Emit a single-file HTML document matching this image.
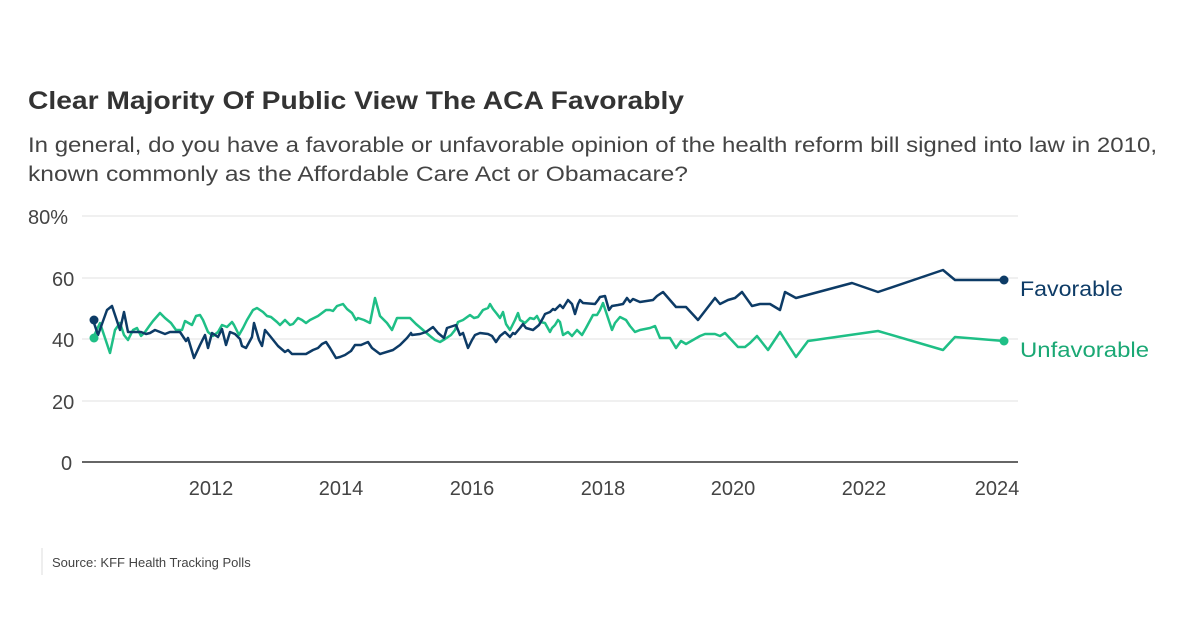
<!DOCTYPE html>
<html><head><meta charset="utf-8"><style>
html,body{margin:0;padding:0;background:#fff;}
svg{display:block;font-family:"Liberation Sans",sans-serif;}
</style></head><body>
<svg width="1200" height="629" viewBox="0 0 1200 629" xmlns="http://www.w3.org/2000/svg">
<rect width="1200" height="629" fill="#fff"/>
<text x="28" y="109" font-size="25" font-weight="bold" fill="#333" textLength="656" lengthAdjust="spacingAndGlyphs">Clear Majority Of Public View The ACA Favorably</text>
<text x="28" y="152" font-size="21" fill="#444" textLength="1129" lengthAdjust="spacingAndGlyphs">In general, do you have a favorable or unfavorable opinion of the health reform bill signed into law in 2010,</text>
<text x="28" y="181" font-size="21" fill="#444" textLength="660" lengthAdjust="spacingAndGlyphs">known commonly as the Affordable Care Act or Obamacare?</text>
<g stroke="#e0e0e0" stroke-width="1">
<line x1="82" y1="216" x2="1018" y2="216"/><line x1="82" y1="278" x2="1018" y2="278"/><line x1="82" y1="339" x2="1018" y2="339"/><line x1="82" y1="401" x2="1018" y2="401"/>
</g>
<line x1="82" y1="462" x2="1018" y2="462" stroke="#333" stroke-width="1.5"/>
<g font-size="20" fill="#444">
<text x="28" y="224">80%</text><text x="52" y="286">60</text><text x="52" y="347">40</text><text x="52" y="409">20</text><text x="61" y="470">0</text>
</g>
<g font-size="20" fill="#444" text-anchor="middle">
<text x="211" y="495">2012</text><text x="341" y="495">2014</text><text x="472" y="495">2016</text><text x="603" y="495">2018</text><text x="733" y="495">2020</text><text x="864" y="495">2022</text><text x="997" y="495">2024</text>
</g>
<polyline fill="none" stroke="#1fbf86" stroke-width="2.5" stroke-linejoin="round" points="93,338 100,323 104,335 110,353 115,330 120,323 124,335 128,340 133,330 137,328 141,336 145,332 150,325 153,321 160,313 165,318 171,323 176,330 182,330 185,321 192,325 196,316 200,315 203,320 208,332 213,336 218,332 222,325 227,327 232,322 234,325 239,335 243,328 247,320 253,310 257,308 263,312 267,316 271,317 277,322 280,325 285,320 290,325 293,324 298,318 302,320 306,323 310,320 314,318 318,316 322,313 326,310 330,310 333,311 337,306 343,304 347,309 352,313 356,320 358,318 364,320 370,323 375,298 380,316 387,323 392,330 397,318 410,318 416,324 423,330 430,336 435,340 440,342 445,339 451,335 455,330 458,322 463,320 470,315 474,318 478,317 483,310 488,308 490,304 493,309 497,314 500,318 503,312 506,324 510,330 515,320 518,313 520,320 525,323 530,318 534,319 537,316 540,322 545,323 550,332 552,328 555,325 558,320 560,322 563,335 568,332 572,336 577,330 582,335 586,328 593,315 597,315 600,310 603,303 608,318 612,330 615,323 620,317 626,320 630,326 635,332 640,330 650,328 655,326 660,338 670,338 676,348 681,341 686,344 700,336 705,334 715,334 720,336 725,333 738,347 745,347 750,343 757,336 768,350 780,332 796,357 808,341 878,331 943,350 955,337 1004,341"/>
<polyline fill="none" stroke="#0d3b66" stroke-width="2.5" stroke-linejoin="round" points="93,320 98,335 107,310 112,306 120,330 124,312 128,332 141,332 146,334 150,333 155,330 160,332 165,334 170,332 180,332 186,341 188,338 194,358 200,345 205,335 208,348 212,333 218,337 222,329 226,345 230,332 235,334 240,339 242,346 246,348 252,337 254,323 259,340 262,346 265,330 270,336 278,346 285,352 288,350 292,354 306,354 313,350 318,348 322,344 326,342 330,348 336,358 340,357 345,355 351,351 355,345 361,345 368,342 372,348 380,354 393,350 400,345 404,341 407,338 411,333 412,335 420,334 426,332 433,327 438,333 444,338 447,328 456,325 460,335 463,333 468,348 472,340 475,335 480,333 488,334 492,336 496,342 500,336 505,332 510,337 513,333 515,334 520,328 523,324 526,328 533,330 539,325 543,318 545,314 550,312 553,309 555,310 560,305 563,308 568,300 572,304 575,314 578,304 580,300 583,303 595,304 598,300 600,297 605,296 609,310 612,306 618,305 623,304 627,298 630,302 633,299 640,302 653,300 657,296 663,292 676,307 686,307 698,320 715,298 720,304 728,300 735,298 742,292 752,306 760,304 770,304 780,310 785,292 796,298 852,283 878,292 943,270 955,280 1004,280"/>
<circle cx="94" cy="320" r="4.5" fill="#0d3b66"/><circle cx="94" cy="338" r="4.5" fill="#1fbf86"/>
<circle cx="1004" cy="280" r="4.5" fill="#0d3b66"/><circle cx="1004" cy="341" r="4.5" fill="#1fbf86"/>
<text x="1020" y="296" font-size="21" fill="#0d3b66" textLength="103" lengthAdjust="spacingAndGlyphs">Favorable</text>
<text x="1020" y="357" font-size="21" fill="#1aa874" textLength="129" lengthAdjust="spacingAndGlyphs">Unfavorable</text>
<line x1="42" y1="548" x2="42" y2="575" stroke="#ddd" stroke-width="1"/>
<text x="52" y="567" font-size="13" fill="#444">Source: KFF Health Tracking Polls</text>
</svg>
</body></html>
